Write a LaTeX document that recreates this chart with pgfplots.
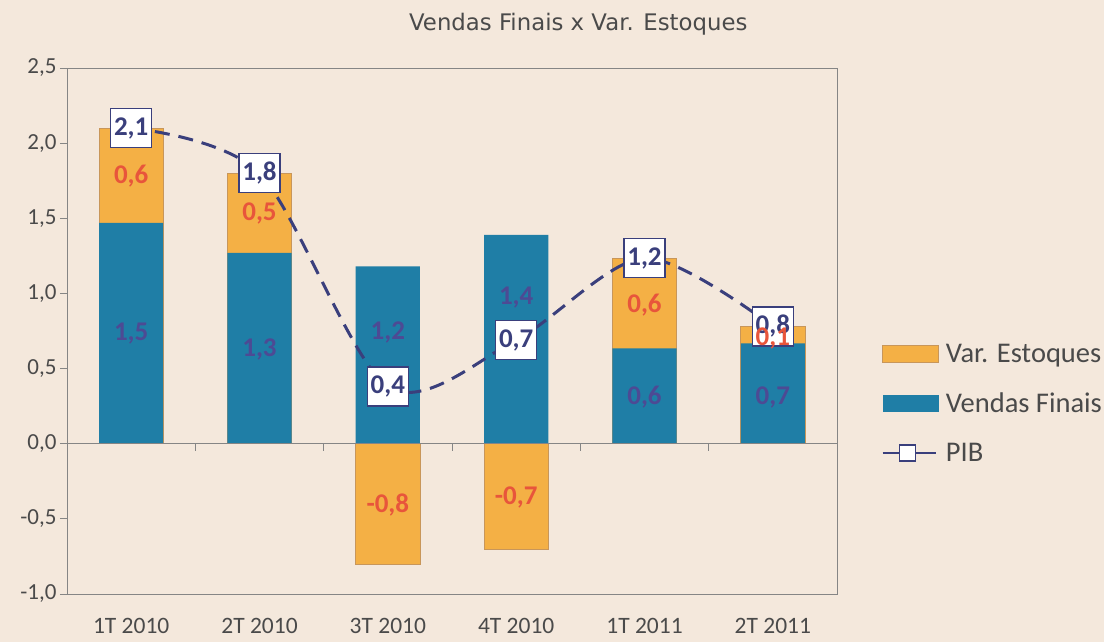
\documentclass[border=0pt]{standalone}
\usepackage{fontspec}
\setmainfont{Carlito}
\newfontfamily\titlefont{DejaVu Sans}
\usepackage{pgfplots}
\usepackage{pgfplotstable}
\pgfplotsset{compat=1.18}

\definecolor{bgpaper}{HTML}{F4E8DC}
\definecolor{barorange}{HTML}{F4B045}
\definecolor{orangeedge}{HTML}{C8965A}
\definecolor{barblue}{HTML}{1F7EA6}
\definecolor{labred}{HTML}{E8553B}
\definecolor{labpurple}{HTML}{4D4A94}
\definecolor{pibnavy}{HTML}{3A3F7C}
\definecolor{axisgray}{HTML}{858585}
\definecolor{txtgray}{HTML}{4A4A4A}

\pgfplotstableread{
x vendas estoques otop pib oy vy
0 1.470 0.63 2.100 2.100 1.78 0.73
1 1.270 0.53 1.800 1.800 1.53 0.63
2 1.180 -0.80 -0.800 0.380 -0.41 0.74
3 1.390 -0.70 -0.700 0.690 -0.36 0.97
4 0.634 0.60 1.235 1.235 0.92 0.31
5 0.668 0.11 0.780 0.780 0.70 0.31
}\data

\newcommand{\numfmt}{\pgfmathprintnumber[assume math mode=true,use comma,fixed,fixed zerofill,precision=1]{\pgfplotspointmeta}}

\begin{document}
\begin{tikzpicture}
\fill[bgpaper] (-67pt,-48pt) rectangle (1037pt,594pt);
\begin{axis}[
  scale only axis, width=770pt, height=526pt,
  xmin=-0.5, xmax=5.5, ymin=-1, ymax=2.5,
  ytick={-1,-0.5,0,0.5,1,1.5,2,2.5},
  xtick={0,1,2,3,4,5},
  xticklabels={1T 2010,2T 2010,3T 2010,4T 2010,1T 2011,2T 2011},
  xtick style={draw=none},
  ytick pos=left,
  tick align=outside, major tick length=7pt,
  ytick style={axisgray, line width=0.8pt},
  axis line style={axisgray, line width=0.8pt},
  yticklabel style={font=\fontsize{23}{23}\selectfont, text=txtgray,
    /pgf/number format/.cd, use comma, fixed, fixed zerofill, precision=1, assume math mode=true},
  xticklabel style={font=\fontsize{23.5}{23.5}\selectfont, text=txtgray, yshift=-14pt},
  title={Vendas Finais x Var. Estoques},
  title style={at={(0.664,1.072)}, anchor=center, font=\titlefont\fontsize{22.8}{22.8}\selectfont, text=txtgray},
  legend style={at={(1.058,0.479)}, anchor=north west, draw=none, fill=none,
    font=\fontsize{28.5}{28.5}\selectfont, text=txtgray, row sep=25pt, column sep=5pt, inner sep=0pt},
  legend cell align=left,
]
\addplot[ybar, bar width=0.5, bar shift=0pt, fill=barorange, draw=orangeedge, line width=0.6pt,
  legend image code/.code={\draw[fill=barorange, draw=orangeedge, line width=0.6pt] (0pt,-8.5pt) rectangle (56pt,8.5pt);}]
  table[x=x,y=otop]{\data};
\addlegendentry{Var. Estoques}
\addplot[ybar, bar width=0.5, bar shift=0pt, fill=barblue, draw=none,
  legend image code/.code={\fill[barblue] (0pt,-8.5pt) rectangle (56pt,8.5pt);}]
  table[x=x,y=vendas]{\data};
\addlegendentry{Vendas Finais}

\draw[axisgray, line width=0.8pt] (axis cs:-0.5,0) -- (axis cs:5.5,0);
\pgfplotsinvokeforeach{0.5,1.5,2.5,3.5,4.5}{\draw[axisgray, line width=0.8pt] (axis cs:#1,0) -- ++(0pt,-7pt);}

\addplot[pibnavy, line width=3pt, dash pattern=on 15pt off 9pt, smooth, tension=0.5, mark=none,
  point meta=explicit, nodes near coords={\numfmt},
  every node near coord/.append style={anchor=center, fill=white, draw=pibnavy, line width=1.3pt, solid,
    font=\bfseries\fontsize{27}{27}\selectfont, text=pibnavy, minimum width=41pt, minimum height=39pt, inner sep=1pt},
  legend image code/.code={\draw[pibnavy, line width=1.5pt, solid] (0pt,0pt) -- (53pt,0pt);
    \draw[pibnavy, line width=1.5pt, solid, fill=white] (17pt,-8pt) rectangle (33pt,8pt);}]
  table[x=x,y=pib,meta=pib]{\data};
\addlegendentry{PIB}

\addplot[only marks, mark=none, forget plot, point meta=explicit,
  nodes near coords={\numfmt},
  every node near coord/.append style={anchor=center, inner sep=0pt, font=\bfseries\fontsize{27}{27}\selectfont, text=labred}]
  table[x=x,y=oy,meta=estoques]{\data};
\addplot[only marks, mark=none, forget plot, point meta=explicit,
  nodes near coords={\numfmt},
  every node near coord/.append style={anchor=center, inner sep=0pt, font=\bfseries\fontsize{27}{27}\selectfont, text=labpurple}]
  table[x=x,y=vy,meta=vendas]{\data};
\end{axis}
\end{tikzpicture}
\end{document}
